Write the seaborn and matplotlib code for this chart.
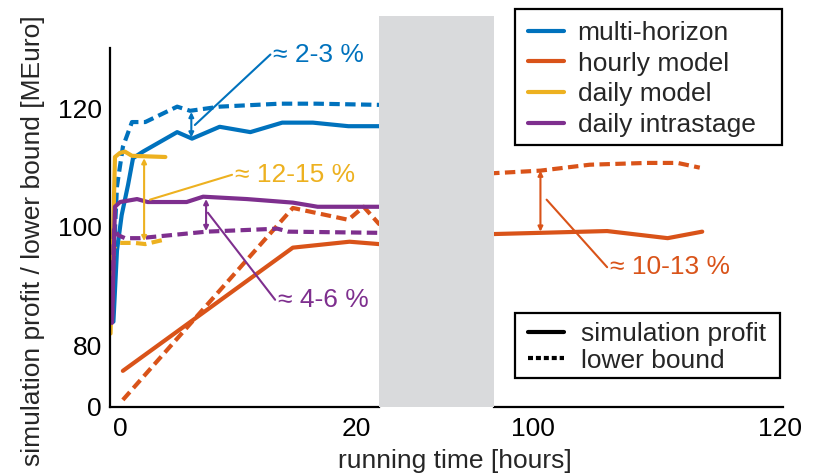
import matplotlib
matplotlib.use("Agg")
import matplotlib.pyplot as plt
import seaborn as sns
from matplotlib.lines import Line2D
from matplotlib.patches import Rectangle

# === SETTINGS ===
sns.set_theme(style="white")
plt.rcParams["font.family"] = ["Liberation Sans", "DejaVu Sans"]
FS = 19
plt.rcParams["font.size"] = FS

BLUE = "#0072BD"
ORANGE = "#D95319"
YELLOW = "#EDB120"
PURPLE = "#7E2F8E"

# === DATA ===
# multi-horizon
mh_sim_t = [-0.6, -0.3, 0.1, 0.64, 1.06, 1.9, 4.8, 6.06, 8.4, 11.0, 13.7, 16.3, 19.3, 21.9]
mh_sim_v = [84.0, 96.0, 102.0, 107.1, 111.6, 112.7, 116.0, 114.9, 116.9, 116.0, 117.6, 117.6, 117.0, 117.0]
mh_lb_t = [-0.7, -0.47, -0.3, 0.2, 0.97, 2.1, 4.8, 5.9, 8.4, 13.5, 16.6, 21.9]
mh_lb_v = [88.0, 99.5, 106.8, 113.5, 117.7, 117.7, 120.3, 119.6, 120.3, 120.8, 120.8, 120.6]

# hourly model
hm_sim_t = [0.2, 14.6, 19.4, 21.9, 96.9, 100.6, 106.0, 110.9, 113.7]
hm_sim_v = [75.7, 96.5, 97.5, 97.1, 98.8, 99.0, 99.3, 98.1, 99.2]
hm_lb_t = [0.2, 14.6, 19.3, 20.6, 21.9, 97.1, 100.6, 104.6, 109.2, 111.7, 113.5]
hm_lb_v = [70.8, 103.2, 101.2, 103.4, 100.5, 109.1, 109.5, 110.5, 110.8, 110.8, 110.0]

# daily model
dm_sim_t = [-0.85, -0.64, -0.47, -0.04, 0.38, 0.97, 3.8]
dm_sim_v = [82.0, 97.8, 111.8, 112.5, 112.7, 112.0, 111.8]
dm_lb_t = [-0.89, -0.72, -0.55, -0.04, 1.2, 2.1, 3.6]
dm_lb_v = [81.8, 91.1, 96.5, 97.3, 97.3, 97.1, 97.8]

# daily intrastage
di_sim_t = [-0.72, -0.47, -0.04, 1.4, 2.3, 5.6, 7.0, 10.7, 14.6, 16.7, 21.9]
di_sim_v = [83.8, 103.4, 104.2, 104.7, 104.2, 104.2, 105.1, 104.7, 104.1, 103.4, 103.4]
di_lb_t = [-0.72, -0.55, -0.2, 0.38, 1.65, 7.3, 13.3, 14.2, 21.9]
di_lb_v = [84.6, 99.8, 98.6, 98.1, 98.1, 99.2, 99.7, 99.2, 99.0]

series_labels = ["multi-horizon", "hourly model", "daily model", "daily intrastage"]
series_colors = [BLUE, ORANGE, YELLOW, PURPLE]
style_labels = ["simulation profit", "lower bound"]
ytick_labels = ["0", "80", "100", "120"]

# gap annotations: (x, top, bottom, leader start, leader end, text)
gaps = [
    (6.0, 119.4, 115.1, (6.3, 117.2), (12.7, 129.1), "≈ 2-3 %", BLUE),
    (2.0, 111.6, 97.6, (2.5, 104.6), (9.45, 108.8), "≈ 12-15 %", YELLOW),
    (7.25, 104.7, 99.3, (7.4, 102.4), (13.1, 87.7), "≈ 4-6 %", PURPLE),
    (100.6, 109.5, 99.2, (101.1, 104.6), (106.0, 93.2), "≈ 10-13 %", ORANGE),
]

DASH = (0, (2.5, 1.3))

# === FIGURE ===
W, H = 819, 475
fig = plt.figure(figsize=(W / 100, H / 100), dpi=100)
ax1 = fig.add_axes([110 / W, 68 / H, 269 / W, 359 / H])
ax2 = fig.add_axes([494 / W, 68 / H, 289 / W, 359 / H])

# grey block hiding the skipped time range
fig.add_artist(Rectangle((379 / W, 68 / H), 115 / W, 391 / H,
                         transform=fig.transFigure, facecolor="#d9dadc",
                         edgecolor="none", zorder=5))


def draw(t, v, color, dashed):
    for ax in (ax1, ax2):
        sns.lineplot(x=t, y=v, ax=ax, color=color, lw=3, estimator=None,
                     sort=False, linestyle=DASH if dashed else "-")


draw(hm_sim_t, hm_sim_v, ORANGE, False)
draw(hm_lb_t, hm_lb_v, ORANGE, True)
draw(mh_sim_t, mh_sim_v, BLUE, False)
draw(mh_lb_t, mh_lb_v, BLUE, True)
draw(dm_sim_t, dm_sim_v, YELLOW, False)
draw(dm_lb_t, dm_lb_v, YELLOW, True)
draw(di_sim_t, di_sim_v, PURPLE, False)
draw(di_lb_t, di_lb_v, PURPLE, True)

for x, top, bot, p0, p1, txt, c in gaps:
    ax = ax2 if x > 50 else ax1
    ax.annotate("", xy=(x, top), xytext=(x, bot),
                arrowprops=dict(arrowstyle="<|-|>", color=c, lw=1.5,
                                mutation_scale=7, shrinkA=0, shrinkB=0))
    ax.plot([p0[0], p1[0]], [p0[1], p1[1]], color=c, lw=1.5)
    ax.text(p1[0] + 0.25, p1[1], txt, color=c, fontsize=FS, va="center", ha="left")

# === AXES ===
for ax in (ax1, ax2):
    ax.set_ylim(69.6, 130.2)
    ax.set_xlabel("")
    ax.set_ylabel("")
    for s in ("top", "right"):
        ax.spines[s].set_visible(False)
    ax.spines["bottom"].set_color("black")
    ax.spines["bottom"].set_linewidth(1.6)
    ax.tick_params(direction="in", length=12, width=1.6, colors="black",
                   labelsize=FS, pad=7)
    ax.set_facecolor("white")

ax1.set_xlim(-0.89, 21.9)
ax1.set_xticks([0, 20])
ax1.xaxis.get_major_ticks()[0].tick1line.set_visible(False)
ax1.spines["left"].set_color("black")
ax1.spines["left"].set_linewidth(1.6)
ax1.set_yticks([69.6, 80, 100, 120])
ax1.set_yticklabels(ytick_labels)
ax1.tick_params(axis="y", pad=6)

ax2.set_xlim(96.84, 120.24)
ax2.set_xticks([100, 120])
ax2.spines["left"].set_visible(False)
ax2.set_yticks([])

fig.text(455 / W, 1 - 461 / H, "running time [hours]", ha="center", va="center", fontsize=FS)
fig.text(33 / W, 1 - 15 / H, "simulation profit / lower bound [MEuro]",
         rotation=90, ha="center", va="top", fontsize=FS)

# === LEGENDS (frames drawn as plain boxes, MATLAB style) ===
for (x0, y0, x1, y1) in [(515, 9, 782, 145), (515, 313, 780, 378)]:
    fig.add_artist(Rectangle((x0 / W, 1 - y1 / H), (x1 - x0) / W, (y1 - y0) / H,
                             transform=fig.transFigure, facecolor="white",
                             edgecolor="black", lw=1.6, zorder=9))

h1 = [Line2D([], [], color=c, lw=3) for c in series_colors]
leg1 = fig.legend(h1, series_labels, loc="upper left",
                  bbox_to_anchor=(528 / W, 1 - 21 / H), bbox_transform=fig.transFigure,
                  frameon=False, fontsize=FS, handlelength=1.35, handletextpad=0.53,
                  labelspacing=0.25, borderpad=0, borderaxespad=0)
leg1.set_zorder(10)

h2 = [Line2D([], [], color="black", lw=3),
      Line2D([], [], color="black", lw=3, linestyle=(0, (1.2, 0.7)))]
leg2 = fig.legend(h2, style_labels, loc="upper left",
                  bbox_to_anchor=(528 / W, 1 - 322 / H), bbox_transform=fig.transFigure,
                  frameon=False, fontsize=FS, handlelength=1.35, handletextpad=0.64,
                  labelspacing=0.1, borderpad=0, borderaxespad=0)
leg2.set_zorder(10)

fig.savefig("out.png", dpi=100)
